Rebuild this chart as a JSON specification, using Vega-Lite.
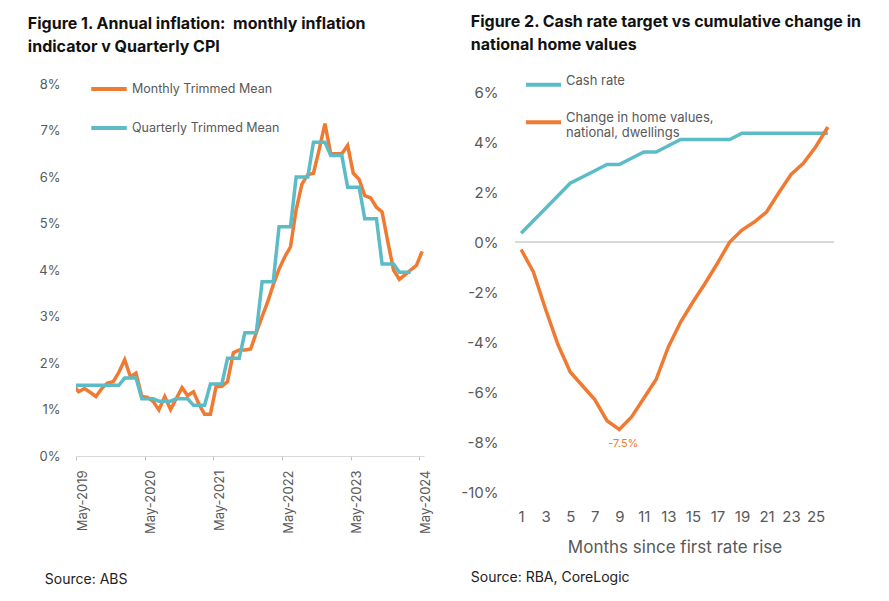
{
  "$schema": "https://vega.github.io/schema/vega-lite/v6.json",
  "background": "white",
  "padding": {"left": 27, "top": 13, "right": 10, "bottom": 10},
  "spacing": 27,
  "resolve": {"scale": {"color": "independent"}, "legend": {"color": "independent"}},
  "config": {
    "view": {"stroke": null},
    "font": "Inter",
    "axis": {"labelFont": "Inter", "titleFont": "Inter", "labelColor": "#595959", "titleColor": "#595959"},
    "legend": {"labelFont": "Inter"},
    "title": {"font": "Inter"}
  },
  "datasets": {
    "inflation": [
      {"date": "2019-04-15T00:00", "series": "Monthly Trimmed Mean", "value": 1.54},
      {"date": "2019-05-15T00:00", "series": "Monthly Trimmed Mean", "value": 1.38},
      {"date": "2019-06-15T00:00", "series": "Monthly Trimmed Mean", "value": 1.45},
      {"date": "2019-07-15T00:00", "series": "Monthly Trimmed Mean", "value": 1.37},
      {"date": "2019-08-15T00:00", "series": "Monthly Trimmed Mean", "value": 1.28},
      {"date": "2019-09-15T00:00", "series": "Monthly Trimmed Mean", "value": 1.45},
      {"date": "2019-10-15T00:00", "series": "Monthly Trimmed Mean", "value": 1.57},
      {"date": "2019-11-15T00:00", "series": "Monthly Trimmed Mean", "value": 1.6},
      {"date": "2019-12-15T00:00", "series": "Monthly Trimmed Mean", "value": 1.8},
      {"date": "2020-01-15T00:00", "series": "Monthly Trimmed Mean", "value": 2.07},
      {"date": "2020-02-15T00:00", "series": "Monthly Trimmed Mean", "value": 1.7},
      {"date": "2020-03-15T00:00", "series": "Monthly Trimmed Mean", "value": 1.78},
      {"date": "2020-04-15T00:00", "series": "Monthly Trimmed Mean", "value": 1.28},
      {"date": "2020-05-15T00:00", "series": "Monthly Trimmed Mean", "value": 1.26},
      {"date": "2020-06-15T00:00", "series": "Monthly Trimmed Mean", "value": 1.17},
      {"date": "2020-07-15T00:00", "series": "Monthly Trimmed Mean", "value": 0.99},
      {"date": "2020-08-15T00:00", "series": "Monthly Trimmed Mean", "value": 1.28},
      {"date": "2020-09-15T00:00", "series": "Monthly Trimmed Mean", "value": 1.0},
      {"date": "2020-10-15T00:00", "series": "Monthly Trimmed Mean", "value": 1.23},
      {"date": "2020-11-15T00:00", "series": "Monthly Trimmed Mean", "value": 1.47},
      {"date": "2020-12-15T00:00", "series": "Monthly Trimmed Mean", "value": 1.3},
      {"date": "2021-01-15T00:00", "series": "Monthly Trimmed Mean", "value": 1.38},
      {"date": "2021-02-15T00:00", "series": "Monthly Trimmed Mean", "value": 1.1},
      {"date": "2021-03-15T00:00", "series": "Monthly Trimmed Mean", "value": 0.9},
      {"date": "2021-04-15T00:00", "series": "Monthly Trimmed Mean", "value": 0.9},
      {"date": "2021-05-15T00:00", "series": "Monthly Trimmed Mean", "value": 1.49},
      {"date": "2021-06-15T00:00", "series": "Monthly Trimmed Mean", "value": 1.5},
      {"date": "2021-07-15T00:00", "series": "Monthly Trimmed Mean", "value": 1.6},
      {"date": "2021-08-15T00:00", "series": "Monthly Trimmed Mean", "value": 2.22},
      {"date": "2021-09-15T00:00", "series": "Monthly Trimmed Mean", "value": 2.28},
      {"date": "2021-10-15T00:00", "series": "Monthly Trimmed Mean", "value": 2.28},
      {"date": "2021-11-15T00:00", "series": "Monthly Trimmed Mean", "value": 2.3},
      {"date": "2021-12-15T00:00", "series": "Monthly Trimmed Mean", "value": 2.65},
      {"date": "2022-01-15T00:00", "series": "Monthly Trimmed Mean", "value": 3.0},
      {"date": "2022-02-15T00:00", "series": "Monthly Trimmed Mean", "value": 3.33},
      {"date": "2022-03-15T00:00", "series": "Monthly Trimmed Mean", "value": 3.68},
      {"date": "2022-04-15T00:00", "series": "Monthly Trimmed Mean", "value": 4.02},
      {"date": "2022-05-15T00:00", "series": "Monthly Trimmed Mean", "value": 4.28},
      {"date": "2022-06-15T00:00", "series": "Monthly Trimmed Mean", "value": 4.5},
      {"date": "2022-07-15T00:00", "series": "Monthly Trimmed Mean", "value": 5.3},
      {"date": "2022-08-15T00:00", "series": "Monthly Trimmed Mean", "value": 5.85},
      {"date": "2022-09-15T00:00", "series": "Monthly Trimmed Mean", "value": 6.05},
      {"date": "2022-10-15T00:00", "series": "Monthly Trimmed Mean", "value": 6.08},
      {"date": "2022-11-15T00:00", "series": "Monthly Trimmed Mean", "value": 6.6},
      {"date": "2022-12-15T00:00", "series": "Monthly Trimmed Mean", "value": 7.15},
      {"date": "2023-01-15T00:00", "series": "Monthly Trimmed Mean", "value": 6.5},
      {"date": "2023-02-15T00:00", "series": "Monthly Trimmed Mean", "value": 6.5},
      {"date": "2023-03-15T00:00", "series": "Monthly Trimmed Mean", "value": 6.5},
      {"date": "2023-04-15T00:00", "series": "Monthly Trimmed Mean", "value": 6.68},
      {"date": "2023-05-15T00:00", "series": "Monthly Trimmed Mean", "value": 6.08},
      {"date": "2023-06-15T00:00", "series": "Monthly Trimmed Mean", "value": 5.95},
      {"date": "2023-07-15T00:00", "series": "Monthly Trimmed Mean", "value": 5.6},
      {"date": "2023-08-15T00:00", "series": "Monthly Trimmed Mean", "value": 5.55},
      {"date": "2023-09-15T00:00", "series": "Monthly Trimmed Mean", "value": 5.35},
      {"date": "2023-10-15T00:00", "series": "Monthly Trimmed Mean", "value": 5.25},
      {"date": "2023-11-15T00:00", "series": "Monthly Trimmed Mean", "value": 4.6},
      {"date": "2023-12-15T00:00", "series": "Monthly Trimmed Mean", "value": 4.0},
      {"date": "2024-01-15T00:00", "series": "Monthly Trimmed Mean", "value": 3.8},
      {"date": "2024-02-15T00:00", "series": "Monthly Trimmed Mean", "value": 3.9},
      {"date": "2024-03-15T00:00", "series": "Monthly Trimmed Mean", "value": 4.0},
      {"date": "2024-04-15T00:00", "series": "Monthly Trimmed Mean", "value": 4.1},
      {"date": "2024-05-15T00:00", "series": "Monthly Trimmed Mean", "value": 4.4},
      {"date": "2019-04-15T00:00", "series": "Quarterly Trimmed Mean", "value": 1.52},
      {"date": "2019-05-15T00:00", "series": "Quarterly Trimmed Mean", "value": 1.52},
      {"date": "2019-06-15T00:00", "series": "Quarterly Trimmed Mean", "value": 1.52},
      {"date": "2019-07-15T00:00", "series": "Quarterly Trimmed Mean", "value": 1.52},
      {"date": "2019-08-15T00:00", "series": "Quarterly Trimmed Mean", "value": 1.52},
      {"date": "2019-09-15T00:00", "series": "Quarterly Trimmed Mean", "value": 1.52},
      {"date": "2019-10-15T00:00", "series": "Quarterly Trimmed Mean", "value": 1.52},
      {"date": "2019-11-15T00:00", "series": "Quarterly Trimmed Mean", "value": 1.52},
      {"date": "2019-12-15T00:00", "series": "Quarterly Trimmed Mean", "value": 1.52},
      {"date": "2020-01-15T00:00", "series": "Quarterly Trimmed Mean", "value": 1.68},
      {"date": "2020-02-15T00:00", "series": "Quarterly Trimmed Mean", "value": 1.68},
      {"date": "2020-03-15T00:00", "series": "Quarterly Trimmed Mean", "value": 1.68},
      {"date": "2020-04-15T00:00", "series": "Quarterly Trimmed Mean", "value": 1.23},
      {"date": "2020-05-15T00:00", "series": "Quarterly Trimmed Mean", "value": 1.23},
      {"date": "2020-06-15T00:00", "series": "Quarterly Trimmed Mean", "value": 1.23},
      {"date": "2020-07-15T00:00", "series": "Quarterly Trimmed Mean", "value": 1.18},
      {"date": "2020-08-15T00:00", "series": "Quarterly Trimmed Mean", "value": 1.18},
      {"date": "2020-09-15T00:00", "series": "Quarterly Trimmed Mean", "value": 1.18},
      {"date": "2020-10-15T00:00", "series": "Quarterly Trimmed Mean", "value": 1.23},
      {"date": "2020-11-15T00:00", "series": "Quarterly Trimmed Mean", "value": 1.23},
      {"date": "2020-12-15T00:00", "series": "Quarterly Trimmed Mean", "value": 1.23},
      {"date": "2021-01-15T00:00", "series": "Quarterly Trimmed Mean", "value": 1.09},
      {"date": "2021-02-15T00:00", "series": "Quarterly Trimmed Mean", "value": 1.09},
      {"date": "2021-03-15T00:00", "series": "Quarterly Trimmed Mean", "value": 1.09},
      {"date": "2021-04-15T00:00", "series": "Quarterly Trimmed Mean", "value": 1.55},
      {"date": "2021-05-15T00:00", "series": "Quarterly Trimmed Mean", "value": 1.55},
      {"date": "2021-06-15T00:00", "series": "Quarterly Trimmed Mean", "value": 1.55},
      {"date": "2021-07-15T00:00", "series": "Quarterly Trimmed Mean", "value": 2.1},
      {"date": "2021-08-15T00:00", "series": "Quarterly Trimmed Mean", "value": 2.1},
      {"date": "2021-09-15T00:00", "series": "Quarterly Trimmed Mean", "value": 2.1},
      {"date": "2021-10-15T00:00", "series": "Quarterly Trimmed Mean", "value": 2.65},
      {"date": "2021-11-15T00:00", "series": "Quarterly Trimmed Mean", "value": 2.65},
      {"date": "2021-12-15T00:00", "series": "Quarterly Trimmed Mean", "value": 2.65},
      {"date": "2022-01-15T00:00", "series": "Quarterly Trimmed Mean", "value": 3.75},
      {"date": "2022-02-15T00:00", "series": "Quarterly Trimmed Mean", "value": 3.75},
      {"date": "2022-03-15T00:00", "series": "Quarterly Trimmed Mean", "value": 3.75},
      {"date": "2022-04-15T00:00", "series": "Quarterly Trimmed Mean", "value": 4.93},
      {"date": "2022-05-15T00:00", "series": "Quarterly Trimmed Mean", "value": 4.93},
      {"date": "2022-06-15T00:00", "series": "Quarterly Trimmed Mean", "value": 4.93},
      {"date": "2022-07-15T00:00", "series": "Quarterly Trimmed Mean", "value": 6.0},
      {"date": "2022-08-15T00:00", "series": "Quarterly Trimmed Mean", "value": 6.0},
      {"date": "2022-09-15T00:00", "series": "Quarterly Trimmed Mean", "value": 6.0},
      {"date": "2022-10-15T00:00", "series": "Quarterly Trimmed Mean", "value": 6.75},
      {"date": "2022-11-15T00:00", "series": "Quarterly Trimmed Mean", "value": 6.75},
      {"date": "2022-12-15T00:00", "series": "Quarterly Trimmed Mean", "value": 6.75},
      {"date": "2023-01-15T00:00", "series": "Quarterly Trimmed Mean", "value": 6.46},
      {"date": "2023-02-15T00:00", "series": "Quarterly Trimmed Mean", "value": 6.46},
      {"date": "2023-03-15T00:00", "series": "Quarterly Trimmed Mean", "value": 6.46},
      {"date": "2023-04-15T00:00", "series": "Quarterly Trimmed Mean", "value": 5.78},
      {"date": "2023-05-15T00:00", "series": "Quarterly Trimmed Mean", "value": 5.78},
      {"date": "2023-06-15T00:00", "series": "Quarterly Trimmed Mean", "value": 5.78},
      {"date": "2023-07-15T00:00", "series": "Quarterly Trimmed Mean", "value": 5.1},
      {"date": "2023-08-15T00:00", "series": "Quarterly Trimmed Mean", "value": 5.1},
      {"date": "2023-09-15T00:00", "series": "Quarterly Trimmed Mean", "value": 5.1},
      {"date": "2023-10-15T00:00", "series": "Quarterly Trimmed Mean", "value": 4.13},
      {"date": "2023-11-15T00:00", "series": "Quarterly Trimmed Mean", "value": 4.13},
      {"date": "2023-12-15T00:00", "series": "Quarterly Trimmed Mean", "value": 4.13},
      {"date": "2024-01-15T00:00", "series": "Quarterly Trimmed Mean", "value": 3.95},
      {"date": "2024-02-15T00:00", "series": "Quarterly Trimmed Mean", "value": 3.95},
      {"date": "2024-03-15T00:00", "series": "Quarterly Trimmed Mean", "value": 3.95}
    ],
    "rates": [
      {"month": 1, "series": "Cash rate", "value": 0.35},
      {"month": 2, "series": "Cash rate", "value": 0.85},
      {"month": 3, "series": "Cash rate", "value": 1.35},
      {"month": 4, "series": "Cash rate", "value": 1.85},
      {"month": 5, "series": "Cash rate", "value": 2.35},
      {"month": 6, "series": "Cash rate", "value": 2.6},
      {"month": 7, "series": "Cash rate", "value": 2.85},
      {"month": 8, "series": "Cash rate", "value": 3.1},
      {"month": 9, "series": "Cash rate", "value": 3.1},
      {"month": 10, "series": "Cash rate", "value": 3.35},
      {"month": 11, "series": "Cash rate", "value": 3.6},
      {"month": 12, "series": "Cash rate", "value": 3.6},
      {"month": 13, "series": "Cash rate", "value": 3.85},
      {"month": 14, "series": "Cash rate", "value": 4.1},
      {"month": 15, "series": "Cash rate", "value": 4.1},
      {"month": 16, "series": "Cash rate", "value": 4.1},
      {"month": 17, "series": "Cash rate", "value": 4.1},
      {"month": 18, "series": "Cash rate", "value": 4.1},
      {"month": 19, "series": "Cash rate", "value": 4.35},
      {"month": 20, "series": "Cash rate", "value": 4.35},
      {"month": 21, "series": "Cash rate", "value": 4.35},
      {"month": 22, "series": "Cash rate", "value": 4.35},
      {"month": 23, "series": "Cash rate", "value": 4.35},
      {"month": 24, "series": "Cash rate", "value": 4.35},
      {"month": 25, "series": "Cash rate", "value": 4.35},
      {"month": 26, "series": "Cash rate", "value": 4.35},
      {"month": 1, "series": "Change in home values, national, dwellings", "value": -0.3},
      {"month": 2, "series": "Change in home values, national, dwellings", "value": -1.2},
      {"month": 3, "series": "Change in home values, national, dwellings", "value": -2.7},
      {"month": 4, "series": "Change in home values, national, dwellings", "value": -4.1},
      {"month": 5, "series": "Change in home values, national, dwellings", "value": -5.2},
      {"month": 6, "series": "Change in home values, national, dwellings", "value": -5.75},
      {"month": 7, "series": "Change in home values, national, dwellings", "value": -6.3},
      {"month": 8, "series": "Change in home values, national, dwellings", "value": -7.15},
      {"month": 9, "series": "Change in home values, national, dwellings", "value": -7.5},
      {"month": 10, "series": "Change in home values, national, dwellings", "value": -7.0},
      {"month": 11, "series": "Change in home values, national, dwellings", "value": -6.25},
      {"month": 12, "series": "Change in home values, national, dwellings", "value": -5.5},
      {"month": 13, "series": "Change in home values, national, dwellings", "value": -4.2},
      {"month": 14, "series": "Change in home values, national, dwellings", "value": -3.2},
      {"month": 15, "series": "Change in home values, national, dwellings", "value": -2.4},
      {"month": 16, "series": "Change in home values, national, dwellings", "value": -1.65},
      {"month": 17, "series": "Change in home values, national, dwellings", "value": -0.85},
      {"month": 18, "series": "Change in home values, national, dwellings", "value": 0.0},
      {"month": 19, "series": "Change in home values, national, dwellings", "value": 0.48},
      {"month": 20, "series": "Change in home values, national, dwellings", "value": 0.8},
      {"month": 21, "series": "Change in home values, national, dwellings", "value": 1.2},
      {"month": 22, "series": "Change in home values, national, dwellings", "value": 1.97},
      {"month": 23, "series": "Change in home values, national, dwellings", "value": 2.7},
      {"month": 24, "series": "Change in home values, national, dwellings", "value": 3.15},
      {"month": 25, "series": "Change in home values, national, dwellings", "value": 3.8},
      {"month": 26, "series": "Change in home values, national, dwellings", "value": 4.6}
    ],
    "annot": [
      {"month": 9, "value": -7.5, "label": "-7.5%"}
    ]
  },
  "hconcat": [
    {
      "title": {
        "text": ["Figure 1. Annual inflation:\u00a0 monthly inflation", "indicator v Quarterly CPI"],
        "anchor": "start", "fontSize": 16, "fontWeight": "bold", "color": "#111111",
        "lineHeight": 23, "offset": 14, "dx": -11
      },
      "vconcat": [
        {
          "title": {"text": "Source: ABS", "orient": "bottom", "anchor": "start", "fontSize": 14, "fontWeight": "normal", "color": "#222222", "offset": 40, "dx": 6},
          "width": 348,
          "height": 372,
          "data": {"name": "inflation"},
          "layer": [
            {
              "mark": {"type": "line", "strokeWidth": 3.5, "clip": true},
              "encoding": {
                "x": {
                  "field": "date", "type": "temporal",
                  "scale": {"domain": [{"year": 2019, "month": 5, "date": 1}, {"year": 2024, "month": 5, "date": 25}]},
                  "axis": {
                    "values": [
                      {"year": 2019, "month": 5, "date": 1}, {"year": 2020, "month": 5, "date": 1},
                      {"year": 2021, "month": 5, "date": 1}, {"year": 2022, "month": 5, "date": 1},
                      {"year": 2023, "month": 5, "date": 1}, {"year": 2024, "month": 5, "date": 1}
                    ],
                    "format": "%b-%Y", "labelAngle": -90, "labelBaseline": "top", "labelAlign": "right",
                    "labelFontSize": 13, "labelPadding": 10, "tickSize": 4, "tickColor": "#bfbfbf",
                    "domainColor": "#d9d9d9", "grid": false, "title": null, "labelFlush": false, "labelOverlap": false
                  }
                },
                "y": {
                  "field": "value", "type": "quantitative",
                  "scale": {"domain": [0, 8]},
                  "axis": {
                    "values": [0, 1, 2, 3, 4, 5, 6, 7, 8], "labelExpr": "datum.value + '%'",
                    "grid": false, "domain": false, "ticks": false, "labelFontSize": 13, "labelPadding": 16, "title": null
                  }
                },
                "color": {
                  "field": "series", "type": "nominal",
                  "scale": {"domain": ["Monthly Trimmed Mean", "Quarterly Trimmed Mean"], "range": ["#F07A32", "#5BBCC8"]},
                  "legend": {
                    "orient": "none", "legendX": 13, "legendY": -15, "title": null, "padding": 0,
                    "symbolType": "stroke", "symbolSize": 1260, "symbolStrokeWidth": 4,
                    "labelFontSize": 12.5, "labelColor": "#595959", "labelOffset": 3, "rowPadding": 11,
                    "labelBaseline": "middle", "labelLimit": 300
                  }
                }
              }
            }
          ]
        }
      ]
    },
    {
      "title": {
        "text": ["Figure 2. Cash rate target vs cumulative change in", "national home values"],
        "anchor": "start", "fontSize": 16, "fontWeight": "bold", "color": "#111111",
        "lineHeight": 23, "offset": 12.8, "dx": 10
      },
      "vconcat": [
        {
          "title": {"text": "Source: RBA, CoreLogic", "orient": "bottom", "anchor": "start", "fontSize": 14, "fontWeight": "normal", "color": "#222222", "offset": 16, "dx": 10},
          "width": 319,
          "height": 408,
          "layer": [
            {
              "data": {"name": "rates"},
              "mark": {"type": "rule", "color": "#d9d9d9", "strokeWidth": 1.5},
              "encoding": {"y": {"datum": 0, "type": "quantitative"}}
            },
            {
              "data": {"name": "rates"},
              "mark": {"type": "line", "strokeWidth": 3.5},
              "encoding": {
                "x": {
                  "field": "month", "type": "ordinal",
                  "scale": {"type": "point", "padding": 0.5},
                  "axis": {
                    "values": [1, 3, 5, 7, 9, 11, 13, 15, 17, 19, 21, 23, 25],
                    "labelAngle": 0, "domain": false, "ticks": false, "labelFontSize": 15, "labelPadding": 17,
                    "title": "Months since first rate rise", "titleFontSize": 17, "titleFontWeight": "normal", "titlePadding": 15
                  }
                },
                "y": {
                  "field": "value", "type": "quantitative",
                  "scale": {"domain": [-10, 6.32], "nice": false},
                  "axis": {
                    "values": [-10, -8, -6, -4, -2, 0, 2, 4, 6], "labelExpr": "datum.value + '%'",
                    "grid": false, "domain": false, "ticks": false, "labelFontSize": 15, "labelPadding": 17, "title": null
                  }
                },
                "color": {
                  "field": "series", "type": "nominal",
                  "scale": {"domain": ["Cash rate", "Change in home values, national, dwellings"], "range": ["#5BBCC8", "#F07A32"]},
                  "legend": {
                    "orient": "none", "legendX": 9, "legendY": -18.7, "title": null, "padding": 0,
                    "symbolType": "stroke", "symbolSize": 1225, "symbolStrokeWidth": 4,
                    "labelFontSize": 13, "labelColor": "#595959", "labelOffset": 3, "rowPadding": 9.5,
                    "labelBaseline": "alphabetic", "labelLimit": 300,
                    "labelExpr": "datum.label == 'Cash rate' ? 'Cash rate' : ['Change in home values,', 'national, dwellings']"
                  }
                }
              }
            },
            {
              "data": {"name": "annot"},
              "mark": {"type": "text", "dy": 14, "dx": 4, "fontSize": 11, "color": "#F07A32"},
              "encoding": {
                "x": {"field": "month", "type": "ordinal"},
                "y": {"field": "value", "type": "quantitative"},
                "text": {"field": "label"}
              }
            }
          ]
        }
      ]
    }
  ]
}
